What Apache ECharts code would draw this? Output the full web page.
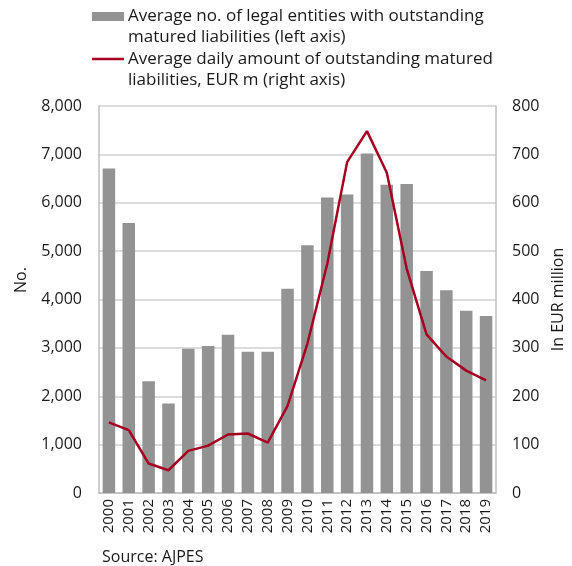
<!DOCTYPE html>
<html><head><meta charset="utf-8">
<script src="https://cdn.jsdelivr.net/npm/echarts@6/dist/echarts.min.js"></script>
<style>html,body{margin:0;padding:0;background:#fff}#c{width:572px;height:566px}</style>
</head><body><div id="c"></div>
<script>
const years = ['2000','2001','2002','2003','2004','2005','2006','2007','2008','2009','2010','2011','2012','2013','2014','2015','2016','2017','2018','2019'];
const entities = [6710,5580,2310,1850,2980,3040,3270,2920,2920,4220,5120,6110,6170,7020,6370,6390,4590,4190,3770,3660];
const amount = [146,130,61,47,87,98,121,123,104,180,309,474,684,748,662,464,328,282,253,233];
const leftTicks = [0,1000,2000,3000,4000,5000,6000,7000,8000];
const rightTicks = [0,100,200,300,400,500,600,700,800];
const legendBar = 'Average no. of legal entities with outstanding\nmatured liabilities (left axis)';
const legendLine = 'Average daily amount of outstanding matured\nliabilities, EUR m (right axis)';
const FONT = 'Open Sans';
const chart = echarts.init(document.getElementById('c'));
chart.setOption({
  animation:false,
  textStyle:{fontFamily:FONT},
  grid:{left:99,right:76,top:106,bottom:73,containLabel:false,outerBoundsMode:'none'},
  graphic:[
    {type:'rect',shape:{x:92,y:12,width:32,height:9},style:{fill:'#939393'}},
    {type:'text',x:128,y:5,style:{text:legendBar,font:'17px "Open Sans"',fill:'#1a1a1a',lineHeight:21.5}},
    {type:'line',shape:{x1:92,y1:59,x2:124,y2:59},style:{stroke:'#a50021',lineWidth:2.5}},
    {type:'text',x:128,y:48,style:{text:legendLine,font:'17px "Open Sans"',fill:'#1a1a1a',lineHeight:21.5}},
    {type:'text',x:102,y:549,style:{text:'Source: AJPES',font:'16px "Open Sans"',fill:'#1a1a1a'}},
    {type:'text',x:21,y:280,rotation:Math.PI/2,style:{text:'No.',font:'16px "Open Sans"',fill:'#1a1a1a',align:'center',verticalAlign:'middle'}}
  ],
  xAxis:{type:'category',data:years,
    axisLine:{lineStyle:{color:'#bfbfbf',width:1.5}},axisTick:{show:false},
    axisLabel:{rotate:90,interval:0,color:'#1a1a1a',fontSize:15,fontFamily:FONT,margin:6}},
  yAxis:[
    {type:'value',min:0,max:8000,interval:1000,
     axisLine:{show:true,lineStyle:{color:'#bfbfbf',width:1.5}},axisTick:{show:false},
     splitLine:{lineStyle:{color:'#d0d0d0',width:1.5}},
     axisLabel:{color:'#1a1a1a',fontSize:16,fontFamily:FONT,margin:17,
       formatter:v=>leftTicks.includes(v)?v.toLocaleString('en-US'):''}},
    {type:'value',min:0,max:800,interval:100,name:'In EUR million',nameLocation:'middle',nameGap:53,
     nameTextStyle:{color:'#1a1a1a',fontSize:16,fontFamily:FONT},
     axisLine:{show:true,lineStyle:{color:'#bfbfbf',width:1.5}},axisTick:{show:false},
     splitLine:{show:false},
     axisLabel:{color:'#1a1a1a',fontSize:16,fontFamily:FONT,margin:16,
       formatter:v=>rightTicks.includes(v)?String(v):''}}
  ],
  series:[
    {type:'bar',name:'bar',data:entities,yAxisIndex:0,barWidth:'63%',itemStyle:{color:'#939393'}},
    {type:'line',name:'line',data:amount,yAxisIndex:1,symbol:'none',lineStyle:{color:'#a50021',width:2.5},z:5}
  ]
});
</script></body></html>
